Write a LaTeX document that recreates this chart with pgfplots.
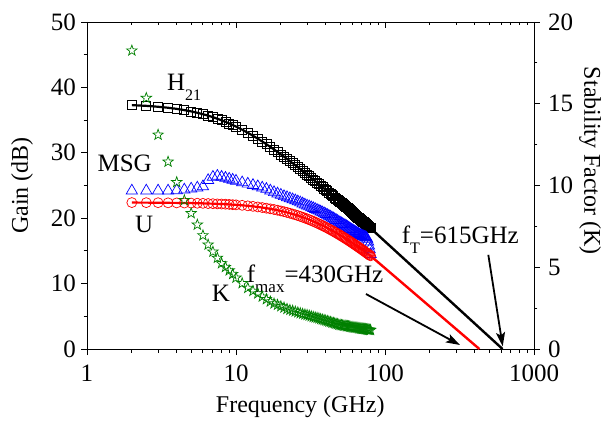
\documentclass[border=0pt]{standalone}
\usepackage{fontspec}
\setmainfont{Liberation Serif}
\usepackage{pgfplots}
\usepackage{pgfplotstable}
\pgfplotsset{compat=1.18}
\usetikzlibrary{arrows.meta}

\definecolor{kgreen}{RGB}{0,128,0}

\pgfdeclareplotmark{ostar}{%
  \pgfpathmoveto{\pgfpointpolar{90}{\pgfplotmarksize}}%
  \pgfpathlineto{\pgfpointpolar{126}{0.4*\pgfplotmarksize}}%
  \pgfpathlineto{\pgfpointpolar{162}{\pgfplotmarksize}}%
  \pgfpathlineto{\pgfpointpolar{198}{0.4*\pgfplotmarksize}}%
  \pgfpathlineto{\pgfpointpolar{234}{\pgfplotmarksize}}%
  \pgfpathlineto{\pgfpointpolar{270}{0.4*\pgfplotmarksize}}%
  \pgfpathlineto{\pgfpointpolar{306}{\pgfplotmarksize}}%
  \pgfpathlineto{\pgfpointpolar{342}{0.4*\pgfplotmarksize}}%
  \pgfpathlineto{\pgfpointpolar{18}{\pgfplotmarksize}}%
  \pgfpathlineto{\pgfpointpolar{54}{0.4*\pgfplotmarksize}}%
  \pgfpathclose
  \pgfusepathqstroke
}

\pgfplotstableread{
f h21 msg u k
2 37.29 24.20 22.39 18.25
2.5 37.18 24.20 22.38 15.35
3 37.04 24.20 22.37 13.10
3.5 36.89 24.20 22.35 11.45
4 36.72 24.25 22.34 10.20
4.5 36.53 24.35 22.32 9.10
5 36.33 24.50 22.31 8.30
5.5 36.12 24.65 22.29 7.60
6 35.90 24.85 22.27 6.95
6.5 35.68 25.80 22.24 6.38
7 35.45 26.30 22.22 5.95
7.5 35.21 26.45 22.19 5.57
8 34.97 26.30 22.17 5.24
8.5 34.73 26.15 22.14 5.01
9 34.49 26.00 22.11 4.80
9.5 34.25 25.85 22.07 4.58
10 34.01 25.70 22.04 4.36
11 33.53 25.45 21.97 4.02
12 33.06 25.25 21.89 3.73
13 32.61 25.05 21.81 3.55
14 32.16 24.85 21.72 3.39
15 31.73 24.65 21.63 3.20
16 31.31 24.45 21.53 3.04
17 30.90 24.20 21.43 2.90
18 30.51 23.95 21.33 2.78
19 30.13 23.75 21.22 2.70
20 29.76 23.55 21.11 2.61
21 29.41 23.34 21.00 2.53
22 29.06 23.18 20.88 2.45
23 28.73 23.02 20.76 2.39
24 28.41 22.86 20.64 2.34
25 28.10 22.70 20.52 2.29
26 27.79 22.54 20.40 2.24
27 27.50 22.38 20.28 2.19
28 27.21 22.22 20.15 2.15
29 26.94 22.06 20.03 2.11
30 26.67 21.90 19.90 2.08
31 26.41 21.77 19.77 2.04
32 26.15 21.64 19.65 2.00
33 25.90 21.51 19.52 1.96
34 25.66 21.38 19.39 1.93
35 25.43 21.25 19.26 1.90
36 25.20 21.12 19.13 1.87
37 24.97 20.99 19.01 1.83
38 24.75 20.86 18.88 1.80
39 24.54 20.73 18.75 1.77
40 24.33 20.60 18.63 1.74
41 24.13 20.47 18.50 1.71
42 23.93 20.34 18.38 1.68
43 23.73 20.21 18.25 1.65
44 23.54 20.08 18.13 1.62
45 23.35 19.95 18.00 1.60
46 23.17 19.82 17.88 1.57
47 22.99 19.69 17.76 1.54
48 22.81 19.56 17.64 1.52
49 22.64 19.43 17.52 1.49
50 22.47 19.30 17.40 1.47
51 22.30 19.19 17.28 1.46
52 22.14 19.08 17.16 1.44
53 21.98 18.97 17.05 1.43
54 21.82 18.86 16.93 1.42
55 21.66 18.75 16.82 1.40
56 21.51 18.64 16.70 1.39
57 21.36 18.53 16.59 1.38
58 21.21 18.42 16.48 1.36
59 21.07 18.31 16.37 1.35
60 20.93 18.20 16.26 1.34
61 20.79 18.10 16.15 1.33
62 20.65 18.00 16.04 1.32
63 20.51 17.90 15.93 1.31
64 20.38 17.80 15.83 1.30
65 20.24 17.70 15.72 1.29
66 20.11 17.62 15.62 1.28
67 19.99 17.54 15.51 1.27
68 19.86 17.46 15.41 1.26
69 19.74 17.38 15.31 1.25
70 19.61 17.30 15.21 1.24
71 19.49 17.24 15.11 1.235
72 19.37 17.18 15.01 1.23
73 19.25 17.12 14.91 1.22
74 19.14 17.06 14.81 1.21
75 19.02 17.00 14.72 1.20
76 18.91 16.80 14.62 1.19
77 18.80 16.40 14.53 1.18
78 18.69 15.80 14.43 1.175
79 18.58 15.20 14.34 1.17
80 18.47 14.50 14.25 1.16
}\data

\begin{document}
\begin{tikzpicture}
\begin{axis}[
  scale only axis, width=447pt, height=327pt,
  xmode=log, xmin=1, xmax=1000,
  major tick length=6pt, minor tick length=3.5pt,
  axis line style={line width=0.9pt},
  every tick/.style={black, line width=0.9pt},
  tick label style={font=\fontsize{25}{25}\selectfont, inner sep=1pt},
  xticklabel style={yshift=-9pt},
  yticklabel style={xshift=-4pt},
  label style={font=\fontsize{24}{28}\selectfont},
  /pgf/number format/assume math mode=true,
  ymin=0, ymax=50,
  xtick={1,10,100,1000}, xticklabels={1,10,100,1000},
  ytick={0,10,20,30,40,50}, minor ytick={5,15,25,35,45},
  xtick pos=bottom, ytick pos=left, tick align=outside,
  xlabel={Frequency (GHz)}, ylabel={Gain (dB)},
  xlabel style={at={(axis description cs:0.477,-0.1927)}, anchor=base},
  ylabel style={at={(axis description cs:-0.1454,0.5)}, anchor=center},
]
\addplot[only marks, mark=square, mark size=4.5pt, black, mark options={line width=0.7pt}] table[x=f,y=h21]{\data};
\addplot[no marks, black, line width=2.2pt] table[x=f,y=h21]{\data};
\addplot[no marks, black, line width=2.4pt] coordinates {(80,18.47) (615,0)};
\addplot[only marks, mark=triangle, mark size=6.5pt, blue, mark options={line width=0.7pt}] table[x=f,y=msg]{\data};
\addplot[only marks, mark=o, mark size=5pt, red, mark options={line width=0.7pt}] table[x=f,y=u]{\data};
\addplot[no marks, red, line width=2.2pt] table[x=f,y=u]{\data};
\addplot[no marks, red, line width=2.4pt] coordinates {(80,14.25) (430,0)};

\node[anchor=base west, inner sep=0pt, font=\fontsize{25}{25}\selectfont] at (axis cs:3.44,39.6) {H\raisebox{-10pt}{\fontsize{16}{16}\selectfont 21}};
\node[anchor=base east, inner sep=0pt, font=\fontsize{25}{25}\selectfont] at (axis cs:2.73,27.1) {MSG};
\node[anchor=base west, inner sep=0pt, font=\fontsize{25}{25}\selectfont] at (axis cs:2.10,17.74) {U};
\node[anchor=base west, inner sep=0pt, font=\fontsize{25}{25}\selectfont] at (axis cs:6.87,7.23) {K};
\node[anchor=base west, inner sep=0pt, font=\fontsize{25}{25}\selectfont] at (axis cs:11.8,10.24) {f\raisebox{-10pt}{\fontsize{17}{17}\selectfont max}=430GHz};
\node[anchor=base west, inner sep=0pt, font=\fontsize{25}{25}\selectfont] at (axis cs:129.4,16.16) {f\raisebox{-10pt}{\fontsize{16}{16}\selectfont T}=615GHz};
\draw[-{Stealth[length=14pt,width=9pt,inset=3pt]}, line width=1.8pt] (axis cs:74.5,8.41) -- (axis cs:318.7,0.61);
\draw[-{Stealth[length=14pt,width=9pt,inset=3pt]}, line width=1.8pt] (axis cs:493.6,14.4) -- (axis cs:616.6,0.4);
\end{axis}

\begin{axis}[
  scale only axis, width=447pt, height=327pt,
  xmode=log, xmin=1, xmax=1000,
  major tick length=6pt, minor tick length=3.5pt,
  axis line style={line width=0.9pt},
  every tick/.style={black, line width=0.9pt},
  tick label style={font=\fontsize{25}{25}\selectfont, inner sep=1pt},
  yticklabel style={xshift=7pt},
  label style={font=\fontsize{24}{28}\selectfont},
  /pgf/number format/assume math mode=true,
  axis x line=none, axis y line*=right,
  ymin=0, ymax=20,
  ytick={0,5,10,15,20}, minor ytick={2.5,7.5,12.5,17.5},
  tick align=outside,
  ylabel={Stability Factor (K)},
  ylabel style={at={(axis description cs:1.1253,0.575)}, anchor=center, rotate=180},
]
\addplot[only marks, mark=ostar, mark size=5.5pt, kgreen, mark options={line width=0.7pt}] table[x=f,y=k]{\data};
\end{axis}

\begin{axis}[
  scale only axis, width=447pt, height=327pt,
  xmode=log, xmin=1, xmax=1000,
  major tick length=6pt, minor tick length=3.5pt,
  axis line style={line width=0.9pt},
  every tick/.style={black, line width=0.9pt},
  axis y line=none, axis x line*=top,
  ymin=0, ymax=50,
  xtick={1,10,100,1000}, xticklabels={},
  tick align=inside,
]
\end{axis}

\pgfresetboundingbox
\path[use as bounding box] (-87pt,-72pt) rectangle (521pt,349pt);
\end{tikzpicture}
\end{document}
